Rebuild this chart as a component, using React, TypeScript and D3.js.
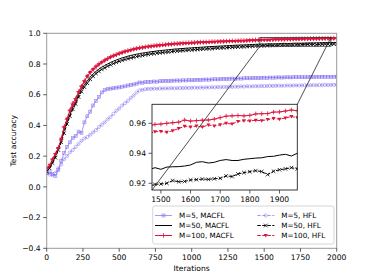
import * as d3 from "d3";

// iterations sampled every 20 steps
const iterations = d3.range(0, 2001, 20);

const m5Macfl = [
  0.09, 0.095, 0.085, 0.07, 0.11, 0.17, 0.22, 0.26, 0.29, 0.32,
  0.33, 0.36, 0.35, 0.42, 0.46, 0.49, 0.53, 0.56, 0.585, 0.615,
  0.63, 0.637, 0.64, 0.642, 0.646, 0.648, 0.652, 0.655, 0.66, 0.664,
  0.667, 0.672, 0.68, 0.678, 0.682, 0.683, 0.684, 0.686, 0.685, 0.688,
  0.689, 0.69, 0.689, 0.691, 0.692, 0.693, 0.692, 0.694, 0.693, 0.695,
  0.694, 0.696, 0.697, 0.696, 0.698, 0.699, 0.698, 0.7, 0.701, 0.7,
  0.702, 0.703, 0.702, 0.704, 0.705, 0.704, 0.706, 0.705, 0.707, 0.708,
  0.707, 0.708, 0.709, 0.708, 0.71, 0.711, 0.71, 0.712, 0.711, 0.712,
  0.713, 0.712, 0.713, 0.714, 0.713, 0.714, 0.715, 0.714, 0.715, 0.714,
  0.715, 0.716, 0.715, 0.716, 0.716, 0.717, 0.716, 0.717, 0.716, 0.717,
  0.717,
];

const m50Macfl = [
  0.11, 0.13, 0.16, 0.2, 0.245, 0.3, 0.37, 0.42, 0.47, 0.52,
  0.55, 0.6, 0.635, 0.665, 0.69, 0.715, 0.735, 0.752, 0.767, 0.78,
  0.79, 0.8, 0.81, 0.818, 0.826, 0.833, 0.84, 0.845, 0.851, 0.856,
  0.86, 0.864, 0.868, 0.871, 0.874, 0.877, 0.88, 0.882, 0.885, 0.887,
  0.889, 0.891, 0.893, 0.895, 0.897, 0.898, 0.9, 0.901, 0.903, 0.904,
  0.905, 0.907, 0.908, 0.909, 0.91, 0.912, 0.913, 0.914, 0.915, 0.916,
  0.917, 0.918, 0.919, 0.92, 0.921, 0.922, 0.923, 0.924, 0.924, 0.925,
  0.926, 0.927, 0.928, 0.929, 0.9304, 0.9293, 0.9308, 0.931, 0.9311, 0.9315,
  0.9322, 0.934, 0.9344, 0.9335, 0.934, 0.9352, 0.9358, 0.9352, 0.9352, 0.936,
  0.9364, 0.9368, 0.937, 0.9378, 0.938, 0.9388, 0.9393, 0.9382, 0.94, 0.9398,
  0.9402,
];

const m100Macfl = [
  0.12, 0.135, 0.18, 0.215, 0.255, 0.31, 0.39, 0.44, 0.5, 0.545,
  0.575, 0.62, 0.655, 0.69, 0.72, 0.745, 0.765, 0.785, 0.8, 0.812,
  0.826, 0.836, 0.846, 0.855, 0.862, 0.87, 0.876, 0.883, 0.888, 0.893,
  0.898, 0.902, 0.906, 0.909, 0.912, 0.915, 0.917, 0.92, 0.922, 0.924,
  0.926, 0.928, 0.929, 0.931, 0.933, 0.934, 0.935, 0.937, 0.938, 0.939,
  0.94, 0.941, 0.942, 0.943, 0.943, 0.944, 0.945, 0.946, 0.946, 0.947,
  0.948, 0.949, 0.949, 0.95, 0.951, 0.951, 0.952, 0.953, 0.953, 0.954,
  0.955, 0.956, 0.957, 0.958, 0.9593, 0.9595, 0.96, 0.9604, 0.9608, 0.9622,
  0.9615, 0.9618, 0.9621, 0.9622, 0.9628, 0.9638, 0.9648, 0.965, 0.9652, 0.965,
  0.9653, 0.9663, 0.9664, 0.9665, 0.9675, 0.9676, 0.9682, 0.9689, 0.9684, 0.9688,
  0.9692,
];

const m5Hfl = [
  0.09, 0.08, 0.075, 0.09, 0.12, 0.145, 0.18, 0.2, 0.225, 0.24,
  0.26, 0.28, 0.3, 0.315, 0.325, 0.34, 0.355, 0.37, 0.39, 0.405,
  0.42, 0.44, 0.455, 0.475, 0.495, 0.51, 0.53, 0.545, 0.56, 0.58,
  0.595, 0.615, 0.628, 0.632, 0.636, 0.638, 0.638, 0.64, 0.639, 0.641,
  0.64, 0.642, 0.641, 0.643, 0.642, 0.643, 0.644, 0.643, 0.645, 0.644,
  0.645, 0.646, 0.645, 0.647, 0.646, 0.648, 0.647, 0.649, 0.648, 0.65,
  0.649, 0.651, 0.65, 0.652, 0.651, 0.653, 0.652, 0.654, 0.653, 0.655,
  0.654, 0.655, 0.656, 0.655, 0.657, 0.656, 0.657, 0.658, 0.657, 0.658,
  0.659, 0.658, 0.659, 0.66, 0.659, 0.66, 0.661, 0.66, 0.661, 0.662,
  0.661, 0.662, 0.663, 0.662, 0.663, 0.663, 0.664, 0.663, 0.664, 0.664,
  0.665,
];

const m50Hfl = [
  0.1, 0.12, 0.155, 0.19, 0.24, 0.29, 0.35, 0.41, 0.46, 0.505,
  0.54, 0.585, 0.62, 0.65, 0.675, 0.7, 0.72, 0.738, 0.752, 0.765,
  0.775, 0.786, 0.795, 0.803, 0.811, 0.818, 0.824, 0.83, 0.835, 0.84,
  0.845, 0.849, 0.853, 0.856, 0.86, 0.863, 0.866, 0.868, 0.871, 0.873,
  0.875, 0.877, 0.879, 0.881, 0.883, 0.885, 0.886, 0.888, 0.889, 0.891,
  0.892, 0.894, 0.895, 0.896, 0.898, 0.899, 0.9, 0.901, 0.903, 0.904,
  0.905, 0.906, 0.907, 0.908, 0.909, 0.91, 0.911, 0.912, 0.913, 0.914,
  0.915, 0.916, 0.917, 0.918, 0.9193, 0.9195, 0.92, 0.9218, 0.921, 0.9212,
  0.9222, 0.9224, 0.9228, 0.9226, 0.923, 0.9233, 0.9249, 0.9245, 0.9262, 0.9271,
  0.9277, 0.9284, 0.9278, 0.9258, 0.928, 0.929, 0.9296, 0.9304, 0.9296, 0.93,
  0.9305,
];

const m100Hfl = [
  0.12, 0.14, 0.175, 0.21, 0.25, 0.31, 0.385, 0.44, 0.49, 0.53,
  0.565, 0.615, 0.65, 0.685, 0.72, 0.745, 0.765, 0.78, 0.795, 0.81,
  0.82, 0.831, 0.842, 0.85, 0.857, 0.865, 0.871, 0.878, 0.883, 0.888,
  0.893, 0.897, 0.901, 0.904, 0.907, 0.91, 0.912, 0.915, 0.917, 0.919,
  0.921, 0.923, 0.925, 0.926, 0.928, 0.929, 0.931, 0.932, 0.933, 0.934,
  0.935, 0.936, 0.937, 0.938, 0.939, 0.94, 0.94, 0.941, 0.942, 0.943,
  0.944, 0.944, 0.945, 0.946, 0.947, 0.947, 0.948, 0.949, 0.949, 0.95,
  0.951, 0.952, 0.952, 0.953, 0.9544, 0.9546, 0.954, 0.9551, 0.9565, 0.958,
  0.9575, 0.9582, 0.9575, 0.9589, 0.9582, 0.959, 0.96, 0.9595, 0.9612, 0.9618,
  0.9616, 0.962, 0.9618, 0.9625, 0.9632, 0.9628, 0.9636, 0.9645, 0.9638, 0.9642,
  0.9646,
];

const xTicks = [0, 250, 500, 750, 1000, 1250, 1500, 1750, 2000];
const yTicks = [-0.4, -0.2, 0, 0.2, 0.4, 0.6, 0.8, 1.0];
const insetXTicks = [1500, 1600, 1700, 1800, 1900];
const insetYTicks = [0.92, 0.94, 0.96];

const BLUE = "#7b68ee";
const RED = "#dc143c";
const BLACK = "#000000";
const FONT = "DejaVu Sans, sans-serif";

type MarkerKind = "square" | "circle" | "plus" | "x" | "tri" | "none";

interface Series {
  label: string;
  values: number[];
  color: string;
  dashed: boolean;
  marker: MarkerKind;
}

const series: Series[] = [
  { label: "M=5, MACFL", values: m5Macfl, color: BLUE, dashed: false, marker: "square" },
  { label: "M=50, MACFL", values: m50Macfl, color: BLACK, dashed: false, marker: "none" },
  { label: "M=100, MACFL", values: m100Macfl, color: RED, dashed: false, marker: "plus" },
  { label: "M=5, HFL", values: m5Hfl, color: BLUE, dashed: true, marker: "circle" },
  { label: "M=50, HFL", values: m50Hfl, color: BLACK, dashed: true, marker: "x" },
  { label: "M=100, HFL", values: m100Hfl, color: RED, dashed: true, marker: "tri" },
];

function Marker({ kind, cx, cy, color }: { kind: MarkerKind; cx: number; cy: number; color: string }) {
  switch (kind) {
    case "square":
      return (
        <rect x={cx - 1.5} y={cy - 1.5} width={3} height={3} fill={color} fillOpacity={0.2} stroke={color} strokeOpacity={0.75} strokeWidth={0.6} />
      );
    case "circle":
      return <circle cx={cx} cy={cy} r={1.6} fill="none" stroke={color} strokeOpacity={0.75} strokeWidth={0.6} />;
    case "plus":
      return <path d={`M${cx - 2.3},${cy}h4.6M${cx},${cy - 2.3}v4.6`} stroke={color} strokeWidth={0.8} />;
    case "x":
      return <path d={`M${cx - 1.8},${cy - 1.8}l3.6,3.6M${cx - 1.8},${cy + 1.8}l3.6,-3.6`} stroke={color} strokeWidth={0.8} />;
    case "tri":
      return <path d={`M${cx - 2},${cy - 1.5}L${cx + 2},${cy - 1.5}L${cx},${cy + 2}Z`} fill={color} />;
    default:
      return null;
  }
}

function Curves({ x, y, clip, domain }: { x: d3.ScaleLinear<number, number>; y: d3.ScaleLinear<number, number>; clip: string; domain?: [number, number] }) {
  return (
    <g clipPath={`url(#${clip})`}>
      {series.map((s) => {
        const pts = iterations.map((it, i) => [it, s.values[i]] as [number, number]);
        const line = d3
          .line<[number, number]>()
          .x((d) => x(d[0]))
          .y((d) => y(d[1]));
        const shown = domain ? pts.filter((d) => d[0] >= domain[0] - 20 && d[0] <= domain[1] + 20) : pts;
        return (
          <g key={s.label}>
            <path
              d={line(pts) || ""}
              fill="none"
              stroke={s.color}
              strokeWidth={s.color === BLUE ? 0.9 : 1}
              strokeOpacity={s.color === BLUE ? 0.75 : 1}
              strokeDasharray={s.dashed ? "3.5,1.5" : undefined}
            />
            {shown.map((d, i) => (
              <Marker key={i} kind={s.marker} cx={x(d[0])} cy={y(d[1])} color={s.color} />
            ))}
          </g>
        );
      })}
    </g>
  );
}

const fmtTick = (v: number, digits: number) => d3.format(`.${digits}f`)(v).replace("-", "\u2212");

export default function App() {
  const W = 374;
  const H = 280;
  const main = { left: 46.7, right: 336.7, top: 33.3, bottom: 248.3 };
  const ins = { left: 152, right: 297.3, top: 104.3, bottom: 190 };
  const insetXDomain: [number, number] = [1470, 1960];
  const insetYDomain: [number, number] = [0.9155, 0.9727];

  const x = d3.scaleLinear().domain([0, 2000]).range([main.left, main.right]);
  const y = d3.scaleLinear().domain([-0.4, 1.0]).range([main.bottom, main.top]);
  const xi = d3.scaleLinear().domain(insetXDomain).range([ins.left, ins.right]);
  const yi = d3.scaleLinear().domain(insetYDomain).range([ins.bottom, ins.top]);

  const leg = { left: 152.7, top: 206, right: 334, bottom: 244 };
  const rowY = [215.5, 225.5, 235.5];
  const colX = [155, 257.3];

  return (
    <svg
      width={W}
      height={H}
      style={{ position: "absolute", left: 0, top: 0, background: "#fff" }}
      fontFamily={FONT}
    >
      <defs>
        <clipPath id="mainClip">
          <rect x={main.left} y={main.top} width={main.right - main.left} height={main.bottom - main.top} />
        </clipPath>
        <clipPath id="insetClip">
          <rect x={ins.left} y={ins.top} width={ins.right - ins.left} height={ins.bottom - ins.top} />
        </clipPath>
      </defs>

      <Curves x={x} y={y} clip="mainClip" />

      {/* zoom region in main axes */}
      <rect
        x={x(insetXDomain[0])}
        y={y(insetYDomain[1])}
        width={x(insetXDomain[1]) - x(insetXDomain[0])}
        height={y(insetYDomain[0]) - y(insetYDomain[1])}
        fill="none"
        stroke="#333"
        strokeWidth={0.8}
      />

      {/* main frame */}
      <rect
        x={main.left}
        y={main.top}
        width={main.right - main.left}
        height={main.bottom - main.top}
        fill="none"
        stroke="#999"
        strokeWidth={1}
      />
      {xTicks.map((t) => (
        <g key={t}>
          <line x1={x(t)} x2={x(t)} y1={main.bottom} y2={main.bottom + 3.5} stroke="#333" strokeWidth={0.8} />
          <text x={x(t)} y={main.bottom + 12} fontSize={7.6} textAnchor="middle" fill="#000">
            {t}
          </text>
        </g>
      ))}
      {yTicks.map((t) => (
        <g key={t}>
          <line x1={main.left - 3.5} x2={main.left} y1={y(t)} y2={y(t)} stroke="#333" strokeWidth={0.8} />
          <text x={main.left - 6} y={y(t) + 2.7} fontSize={7.6} textAnchor="end" fill="#000">
            {fmtTick(t, 1)}
          </text>
        </g>
      ))}
      <text x={(main.left + main.right) / 2} y={271} fontSize={7.6} textAnchor="middle">
        Iterations
      </text>
      <text
        transform={`translate(16,${(main.top + main.bottom) / 2}) rotate(-90)`}
        fontSize={7.6}
        textAnchor="middle"
      >
        Test accuracy
      </text>

      {/* inset */}
      <rect x={ins.left} y={ins.top} width={ins.right - ins.left} height={ins.bottom - ins.top} fill="#fff" />
      <Curves x={xi} y={yi} clip="insetClip" domain={insetXDomain} />
      <rect
        x={ins.left}
        y={ins.top}
        width={ins.right - ins.left}
        height={ins.bottom - ins.top}
        fill="none"
        stroke="#222"
        strokeWidth={0.9}
      />
      {insetXTicks.map((t) => (
        <g key={t}>
          <line x1={xi(t)} x2={xi(t)} y1={ins.bottom} y2={ins.bottom + 3.5} stroke="#333" strokeWidth={0.8} />
          <text x={xi(t)} y={ins.bottom + 12} fontSize={7.6} textAnchor="middle">
            {t}
          </text>
        </g>
      ))}
      {insetYTicks.map((t) => (
        <g key={t}>
          <line x1={ins.left - 3.5} x2={ins.left} y1={yi(t)} y2={yi(t)} stroke="#333" strokeWidth={0.8} />
          <text x={ins.left - 6} y={yi(t) + 2.7} fontSize={7.6} textAnchor="end">
            {fmtTick(t, 2)}
          </text>
        </g>
      ))}

      {/* connector lines */}
      <line
        x1={ins.left}
        y1={ins.bottom}
        x2={x(insetXDomain[0])}
        y2={y(insetYDomain[0])}
        stroke="#222"
        strokeWidth={0.8}
      />
      <line
        x1={ins.right}
        y1={ins.top}
        x2={x(insetXDomain[1])}
        y2={y(insetYDomain[1])}
        stroke="#222"
        strokeWidth={0.8}
      />

      {/* legend */}
      <rect
        x={leg.left}
        y={leg.top}
        width={leg.right - leg.left}
        height={leg.bottom - leg.top}
        rx={2}
        fill="#fff"
        fillOpacity={0.8}
        stroke="#ccc"
        strokeWidth={0.8}
      />
      {series.map((s, i) => {
        const col = Math.floor(i / 3);
        const row = i % 3;
        const lx = colX[col];
        const ly = rowY[row];
        return (
          <g key={s.label}>
            <line
              x1={lx}
              x2={lx + 17}
              y1={ly}
              y2={ly}
              stroke={s.color}
              strokeWidth={s.color === BLUE ? 0.9 : 1}
              strokeOpacity={s.color === BLUE ? 0.75 : 1}
              strokeDasharray={s.dashed ? "3.5,1.5" : undefined}
            />
            <Marker kind={s.marker} cx={lx + 8.5} cy={ly} color={s.color} />
            <text x={lx + 24} y={ly + 2.6} fontSize={7.2}>
              {s.label}
            </text>
          </g>
        );
      })}
    </svg>
  );
}
